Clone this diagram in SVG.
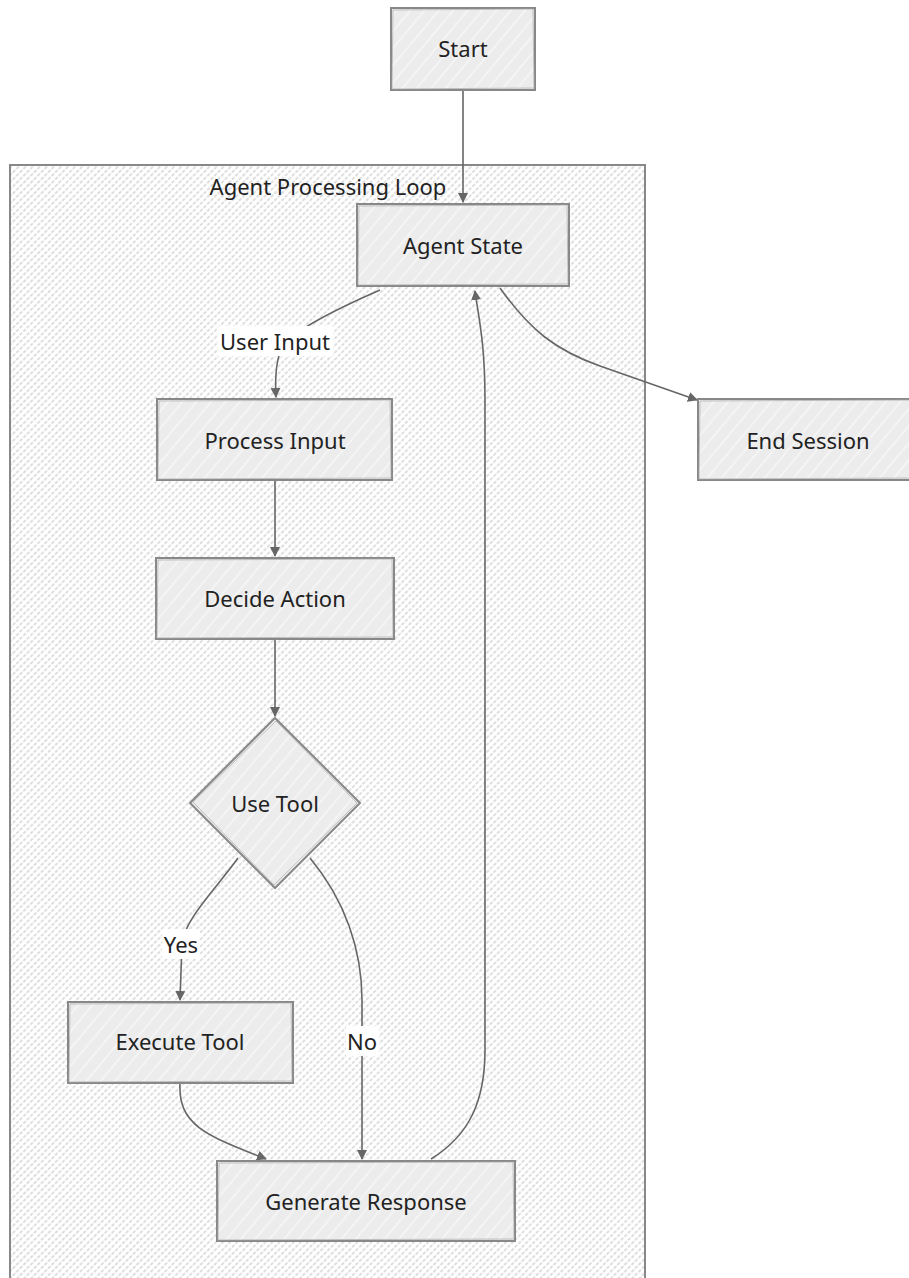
<svg xmlns="http://www.w3.org/2000/svg" width="909" height="1278" viewBox="0 0 909 1278">
  <style>
    .node rect, .node polygon { fill: url(#nodeHatch); stroke: #888; stroke-width: 2; }
    .node .sk { fill: none; stroke: #aaa; stroke-width: 1; opacity: 0.7; }
    .lbl { font-family: "Noto Sans", "Open Sans", sans-serif; font-size: 22px; fill: #222; text-anchor: middle; dominant-baseline: central; }
    .edge { fill: none; stroke: #666; stroke-width: 1.6; marker-end: url(#arrow); }
    .elbg { fill: #fff; }
  </style>
  <defs>
    <pattern id="clusterHatch" width="5" height="5" patternUnits="userSpaceOnUse" patternTransform="rotate(45)">
      <rect width="5" height="5" fill="#fff"/>
      <line x1="1" y1="0" x2="1" y2="5" stroke="#b5b5b5" stroke-width="0.9" stroke-dasharray="3 1.5"/>
    </pattern>
    <pattern id="nodeHatch" width="11" height="11" patternUnits="userSpaceOnUse" patternTransform="rotate(40)">
      <rect width="11" height="11" fill="#ececec"/>
      <line x1="2" y1="0" x2="2" y2="11" stroke="#fafafa" stroke-width="1.2"/>
    </pattern>
    <marker id="arrow" viewBox="0 0 10 10" refX="9" refY="5" markerWidth="10" markerHeight="10" orient="auto-start-reverse" markerUnits="userSpaceOnUse">
      <path d="M0,0 L10,5 L0,10 z" fill="#666"/>
    </marker>
  </defs>

  <rect width="909" height="1278" fill="#fff"/>

  <!-- processing loop cluster -->
  <g id="cluster-loop">
    <rect x="10" y="165" width="635" height="1130" fill="url(#clusterHatch)" stroke="#888" stroke-width="2"/>
    <text class="lbl" x="328" y="186">Agent Processing Loop</text>
  </g>

  <!-- connectors -->
  <g id="edges">
    <path class="edge" d="M463,90 L463,202"/>
    <path class="edge" d="M380,290 Q300,325 283,345 Q274,362 276,397"/>
    <path class="edge" d="M275,480 L275,556"/>
    <path class="edge" d="M275,639 L275,716"/>
    <path class="edge" d="M238,858 C215,890 184,920 182,944 L180,1000"/>
    <path class="edge" d="M310,858 C345,900 362,950 362,1000 L362,1159"/>
    <path class="edge" d="M180,1083 C178,1125 205,1135 266,1159"/>
    <path class="edge" d="M431,1159 C470,1135 485,1100 485,1050 L485,400 C485,340 478,315 475,291"/>
    <path class="edge" d="M500,288 C530,330 555,350 600,366 L697,400"/>

    <rect class="elbg" x="218" y="326" width="115" height="30"/>
    <text class="lbl" x="275" y="341">User Input</text>
    <rect class="elbg" x="162" y="929" width="38" height="30"/>
    <text class="lbl" x="181" y="944">Yes</text>
    <rect class="elbg" x="346" y="1026" width="33" height="30"/>
    <text class="lbl" x="362" y="1041">No</text>
  </g>

  <g id="node-start" class="node">
    <rect x="391" y="8" width="144" height="82"/>
    <path class="sk" d="M393,10 L533,9 L534,88 L392,89 Z"/>
    <text class="lbl" x="463" y="48">Start</text>
  </g>

  <g id="node-agent-state" class="node">
    <rect x="357" y="204" width="212" height="82"/>
    <path class="sk" d="M359,206 L567,205 L568,284 L358,285 Z"/>
    <text class="lbl" x="463" y="245">Agent State</text>
  </g>

  <g id="node-process-input" class="node">
    <rect x="157" y="399" width="235" height="81"/>
    <path class="sk" d="M159,401 L390,400 L391,478 L158,479 Z"/>
    <text class="lbl" x="275" y="440">Process Input</text>
  </g>

  <g id="node-decide-action" class="node">
    <rect x="156" y="558" width="238" height="81"/>
    <path class="sk" d="M158,560 L392,559 L393,637 L157,638 Z"/>
    <text class="lbl" x="275" y="598">Decide Action</text>
  </g>

  <g id="node-use-tool" class="node">
    <polygon points="275,718 360,803 275,888 190,803"/>
    <path class="sk" d="M276,721 L357,803 L274,885 L193,802 Z"/>
    <text class="lbl" x="275" y="803">Use Tool</text>
  </g>

  <g id="node-execute-tool" class="node">
    <rect x="68" y="1002" width="225" height="81"/>
    <path class="sk" d="M70,1004 L291,1003 L292,1081 L69,1082 Z"/>
    <text class="lbl" x="180" y="1041">Execute Tool</text>
  </g>

  <g id="node-generate-response" class="node">
    <rect x="217" y="1161" width="298" height="80"/>
    <path class="sk" d="M219,1163 L513,1162 L514,1239 L218,1240 Z"/>
    <text class="lbl" x="366" y="1201">Generate Response</text>
  </g>

  <g id="node-end-session" class="node">
    <rect x="698" y="399" width="220" height="81"/>
    <path class="sk" d="M700,401 L916,400 L917,478 L699,479 Z"/>
    <text class="lbl" x="808" y="440">End Session</text>
  </g>
</svg>
